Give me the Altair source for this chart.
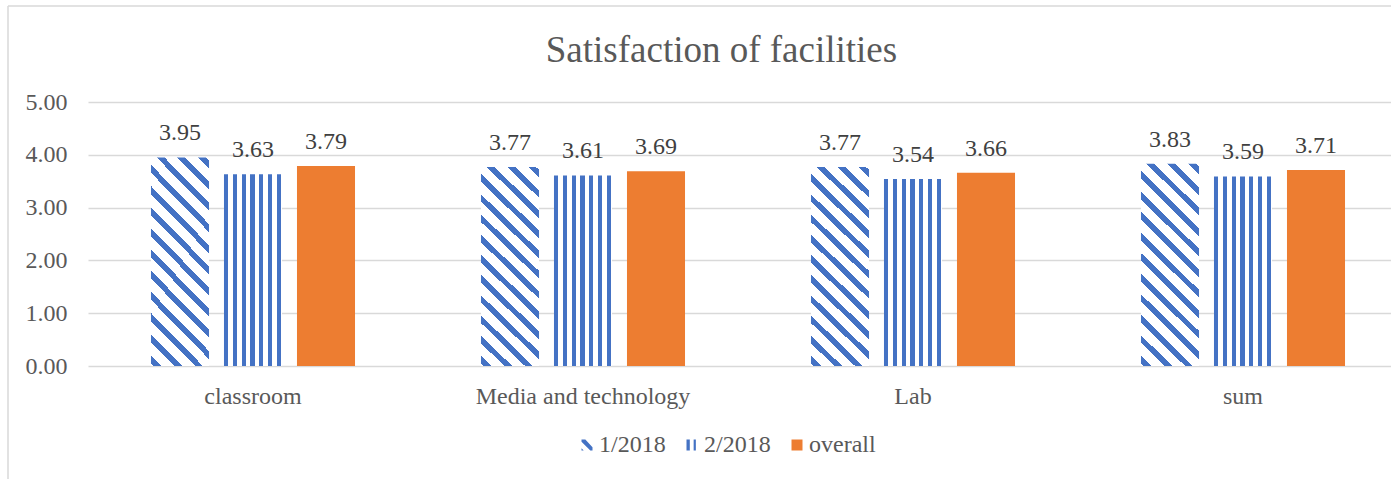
import altair as alt
import pandas as pd

categories = ["classroom", "Media and technology", "Lab", "sum"]
series = ["1/2018", "2/2018", "overall"]
vals_2018_1 = [3.95, 3.77, 3.77, 3.83]
vals_2018_2 = [3.63, 3.61, 3.54, 3.59]
vals_overall = [3.79, 3.69, 3.66, 3.71]
y_ticks = [0, 1, 2, 3, 4, 5]
title_text = ["Satisfaction of facilities"]

rows = []
for s, vals in zip(series, [vals_2018_1, vals_2018_2, vals_overall]):
    for c, v in zip(categories, vals):
        rows.append({"category": c, "series": s, "value": v})
df = pd.DataFrame(rows)

BLUE = "#4472C4"
ORANGE = "#ED7D31"
WHITE = "#FFFFFF"
GRID = "#D9D9D9"
FONT = "Liberation Serif, Times New Roman, DejaVu Serif, serif"


def stops_from(intervals):
    st = []
    pos = 0.0
    for a, b in intervals:
        a = max(0.0, a)
        b = min(1.0, b)
        if b <= a:
            continue
        if a > pos:
            st += [{"offset": round(pos, 4), "color": WHITE}, {"offset": round(a, 4), "color": WHITE}]
        st += [{"offset": round(a, 4), "color": BLUE}, {"offset": round(b, 4), "color": BLUE}]
        pos = b
    if pos < 1:
        st += [{"offset": round(pos, 4), "color": WHITE}, {"offset": 1, "color": WHITE}]
    return st


# vertical stripes (horizontal gradient with hard stops)
vert_intervals = [(k * 0.1515, k * 0.1515 + 0.072) for k in range(7)]
vert_fill = {"gradient": "linear", "x1": 0, "y1": 0, "x2": 1, "y2": 0,
             "stops": stops_from(vert_intervals)}

# diagonal stripes at 45 degrees in pixel space (bbox units)
r = 204.0 / 58.0
k = (1 + r) / (1 + r * r)
periods = (58.0 + 204.0) / 20.7
per = 1.0 / periods
diag_intervals = [(0.01 + i * per, 0.01 + i * per + 0.38 * per) for i in range(int(periods) + 2)]
diag_fill = {"gradient": "linear", "x1": 0, "y1": 1, "x2": round(k, 4), "y2": round(1 - k * r, 4),
             "stops": stops_from(diag_intervals)}

x_enc = alt.X("category:N", sort=categories, title=None,
              scale=alt.Scale(domain=categories, range=[0, 1320], paddingInner=0.3364, paddingOuter=0.1682),
              axis=alt.Axis(labelFont=FONT, labelFontSize=24, labelColor="#595959", domain=False,
                            ticks=False, tickSize=0, labelPadding=37, labelBaseline="alphabetic",
                            labelAngle=0, grid=False, labelLimit=0))
xo_enc = alt.XOffset("series:N", sort=series,
                     scale=alt.Scale(domain=series, paddingInner=0.205, paddingOuter=0.1025))
y_enc = alt.Y("value:Q", title=None, scale=alt.Scale(domain=[0, 5], nice=False, zero=True),
              axis=alt.Axis(values=y_ticks, format=".2f", labelFont=FONT, labelFontSize=24,
                            labelColor="#595959", domain=False, ticks=False, tickSize=0,
                            labelPadding=21, grid=True, gridColor=GRID, gridWidth=1.4))

frame_df = pd.DataFrame({"a": [0]})
frame_left = alt.Chart(frame_df).mark_rule(color=GRID, strokeWidth=1.5).encode(
    x=alt.value(-80), y=alt.value(-96), y2=alt.value(377))
frame_top = alt.Chart(frame_df).mark_rule(color=GRID, strokeWidth=1.5).encode(
    x=alt.value(-80), x2=alt.value(1303), y=alt.value(-96))

title_df = pd.DataFrame({"t": title_text})
title = alt.Chart(title_df).mark_text(font=FONT, fontSize=37, color="#595959", align="center",
                                      baseline="alphabetic").encode(
    text="t:N", x=alt.value(633.5), y=alt.value(-40.3))

base = alt.Chart(df)
bars1 = base.transform_filter(alt.datum.series == "1/2018").mark_bar(fill=diag_fill).encode(
    x=x_enc, xOffset=xo_enc, y=y_enc)
bars2 = base.transform_filter(alt.datum.series == "2/2018").mark_bar(fill=vert_fill).encode(
    x=x_enc, xOffset=xo_enc, y=y_enc)
bars3 = base.transform_filter(alt.datum.series == "overall").mark_bar(fill=ORANGE).encode(
    x=x_enc, xOffset=xo_enc, y=y_enc)

labels = base.mark_text(dy=-17, baseline="alphabetic", font=FONT, fontSize=24, color="#404040").encode(
    x=x_enc, xOffset=xo_enc, y=y_enc, text=alt.Text("value:Q", format=".2f"))

sym1 = "M-1,-1L-0.3,-1L1,0.4L1,1L0.6,1L-1,-0.6Z M-1,0.6L-1,1L-0.6,1Z"
sym2 = "M-1,-1H-0.4V1H-1Z M0.3,-1H0.7V1H0.3Z"
sym3 = "M-1,-1H1V1H-1Z"

leg = alt.Legend(title=None, orient="none", legendX=487, legendY=331, direction="horizontal",
                 labelFont=FONT, labelFontSize=24, labelColor="#595959", symbolSize=121,
                 symbolOpacity=1, symbolStrokeWidth=0, labelOffset=0, columnPadding=14, padding=0)
legend_pts = base.mark_point(filled=True, opacity=0).encode(
    x=x_enc, xOffset=xo_enc, y=y_enc,
    color=alt.Color("series:N", sort=series, scale=alt.Scale(domain=series, range=[BLUE, BLUE, ORANGE]), legend=leg),
    shape=alt.Shape("series:N", sort=series, scale=alt.Scale(domain=series, range=[sym1, sym2, sym3]), legend=leg),
)

chart = alt.layer(frame_left, frame_top, title, bars1, bars2, bars3, labels, legend_pts).properties(
    width=1303, height=264,
    autosize=alt.AutoSizeParams(type="none"),
    padding={"left": 88, "top": 102, "right": 0, "bottom": 113},
    background="white",
).configure_view(stroke=None)

chart.save("out.html", embed_options={"renderer": "svg", "actions": False})
